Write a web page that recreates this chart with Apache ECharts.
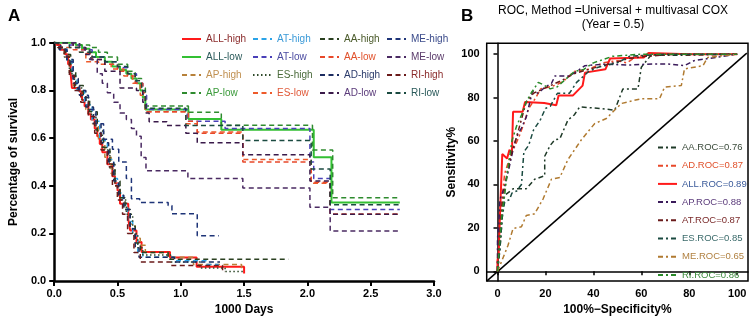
<!DOCTYPE html>
<html>
<head>
<meta charset="utf-8">
<script src="https://cdn.jsdelivr.net/npm/echarts@6/dist/echarts.min.js"></script>
<style>
  html, body { margin: 0; padding: 0; background: #fff; }
  #chart { width: 753px; height: 321px; }
</style>
</head>
<body>
<div id="chart"></div>
<script>
// panel A: Kaplan-Meier curves, [time (1000 days), survival]
var allHigh = [[0,1],[0.02,0.99],[0.05,0.97],[0.09,0.95],[0.11,0.91],[0.13,0.87],[0.14,0.81],[0.2,0.795],[0.22,0.76],[0.24,0.733],[0.27,0.7],[0.29,0.678],[0.32,0.64],[0.34,0.608],[0.36,0.575],[0.38,0.54],[0.42,0.49],[0.46,0.44],[0.48,0.41],[0.5,0.38],[0.52,0.324],[0.585,0.26],[0.6,0.2125],[0.65,0.164],[0.69,0.122],[0.915,0.099],[1.125,0.06],[1.5,0.032]]
var allLow = [[0,1],[0.17,0.99],[0.22,0.975],[0.28,0.96],[0.33,0.94],[0.4,0.92],[0.46,0.9],[0.52,0.885],[0.57,0.87],[0.61,0.85],[0.65,0.83],[0.68,0.8],[0.7,0.77],[0.72,0.72],[1.06,0.68],[1.32,0.635],[2.05,0.52],[2.19,0.33],[2.73,0.33]]
var apHigh = [[0,1],[0.03,0.98],[0.08,0.95],[0.12,0.88],[0.15,0.82],[0.2,0.78],[0.25,0.72],[0.3,0.66],[0.35,0.59],[0.4,0.52],[0.45,0.45],[0.48,0.4],[0.5,0.35],[0.55,0.3],[0.6,0.24],[0.64,0.18],[0.68,0.15],[0.72,0.12],[0.9,0.1],[1.1,0.07],[1.48,0.053],[1.5,0.053]]
var apLow = [[0,1],[0.2,0.99],[0.28,0.98],[0.35,0.96],[0.42,0.94],[0.5,0.91],[0.58,0.88],[0.64,0.85],[0.69,0.81],[0.72,0.735],[1.06,0.708],[1.32,0.654],[2.04,0.55],[2.2,0.35],[2.73,0.35]]
var atHigh = [[0,1],[0.04,0.98],[0.1,0.93],[0.14,0.86],[0.18,0.8],[0.24,0.74],[0.3,0.67],[0.36,0.59],[0.42,0.51],[0.47,0.43],[0.5,0.37],[0.54,0.32],[0.58,0.25],[0.62,0.19],[0.66,0.12],[0.7,0.1],[0.95,0.085],[1.2,0.07],[1.3,0.07]]
var atLow = [[0,1],[0.1,0.99],[0.2,0.97],[0.3,0.94],[0.4,0.92],[0.5,0.895],[0.58,0.87],[0.65,0.83],[0.7,0.78],[0.73,0.72],[1.05,0.67],[1.35,0.64],[2.02,0.5],[2.05,0.43],[2.18,0.3],[2.73,0.3]]
var esHigh = [[0,1],[0.03,0.98],[0.08,0.94],[0.12,0.87],[0.16,0.81],[0.22,0.76],[0.27,0.7],[0.33,0.62],[0.38,0.55],[0.44,0.47],[0.48,0.4],[0.52,0.34],[0.57,0.28],[0.62,0.2],[0.66,0.14],[0.7,0.11],[0.92,0.08],[1.15,0.055],[1.35,0.04],[1.5,0.04]]
var esLow = [[0,1],[0.1,0.98],[0.2,0.96],[0.25,0.92],[0.35,0.91],[0.45,0.89],[0.55,0.86],[0.62,0.83],[0.68,0.78],[0.72,0.71],[1.04,0.66],[1.13,0.625],[1.49,0.51],[2.03,0.41],[2.18,0.28],[2.73,0.28]]
var aaHigh = [[0,1],[0.03,0.98],[0.09,0.95],[0.13,0.88],[0.17,0.82],[0.23,0.77],[0.28,0.71],[0.34,0.63],[0.39,0.56],[0.44,0.49],[0.48,0.42],[0.52,0.35],[0.56,0.3],[0.6,0.23],[0.64,0.16],[0.68,0.12],[0.9,0.092],[1.85,0.092]]
var aaLow = [[0,1],[0.15,0.97],[0.25,0.955],[0.3,0.93],[0.4,0.91],[0.5,0.88],[0.58,0.86],[0.64,0.83],[0.7,0.79],[0.72,0.71],[1.06,0.67],[1.13,0.62],[1.49,0.5],[2.03,0.415],[2.18,0.28],[2.73,0.28]]
var adHigh = [[0,1],[0.04,0.97],[0.1,0.93],[0.15,0.85],[0.19,0.8],[0.25,0.73],[0.31,0.66],[0.37,0.58],[0.43,0.5],[0.47,0.42],[0.51,0.36],[0.55,0.3],[0.6,0.22],[0.64,0.14],[0.67,0.1],[0.95,0.08],[1.31,0.08]]
var adLow = [[0,1],[0.15,0.98],[0.25,0.95],[0.29,0.93],[0.4,0.88],[0.52,0.81],[0.65,0.8],[0.7,0.75],[0.725,0.705],[0.75,0.668],[0.89,0.653],[1.04,0.62],[1.13,0.58],[1.49,0.53],[2.02,0.42],[2.18,0.28],[2.73,0.28]]
var meHigh = [[0,1],[0.05,0.97],[0.1,0.92],[0.15,0.83],[0.2,0.78],[0.27,0.72],[0.33,0.66],[0.39,0.595],[0.46,0.553],[0.51,0.5],[0.57,0.43],[0.61,0.345],[0.675,0.33],[0.9,0.317],[0.93,0.282],[1.13,0.19],[1.3,0.19]]
var meLow = [[0,1],[0.2,0.98],[0.24,0.97],[0.28,0.93],[0.34,0.87],[0.38,0.83],[0.42,0.79],[0.47,0.75],[0.52,0.705],[0.57,0.678],[0.61,0.64],[0.65,0.608],[0.687,0.518],[0.725,0.4625],[1.056,0.43],[1.49,0.39],[2.02,0.31],[2.18,0.21],[2.73,0.21]]
var riHigh = [[0,1],[0.03,0.98],[0.08,0.94],[0.12,0.86],[0.16,0.8],[0.21,0.75],[0.27,0.69],[0.32,0.62],[0.37,0.55],[0.42,0.48],[0.46,0.4],[0.5,0.34],[0.54,0.28],[0.58,0.2],[0.63,0.12],[0.68,0.08],[0.92,0.065],[1.33,0.04],[1.35,0.04]]
var riLow = [[0,1],[0.12,0.98],[0.2,0.96],[0.3,0.94],[0.4,0.92],[0.5,0.9],[0.58,0.87],[0.64,0.84],[0.69,0.8],[0.72,0.725],[1.04,0.653],[1.49,0.59],[2.03,0.47],[2.18,0.32],[2.73,0.32]]

// panel B: ROC curves, [100%-specificity, sensitivity]
var rocAA = [[0,0],[1,10],[2,25],[2.5,33],[3,35],[6.5,38],[12,38],[15.5,42.4],[19.7,44],[19.7,53],[22,58],[23.9,60.6],[26,61],[29.4,69.7],[32,72],[34.3,75.7],[42.6,75],[48.9,74.2],[52.3,84],[58.6,84],[60,94],[64,99.5],[80,99.5],[100,100]]
var rocAD = [[0,0],[0,5],[1,20],[2,35],[3,45],[5,52],[7,57],[9,62],[11,68],[13,75],[16,80],[18,84],[22,85],[25,86],[28,88],[32,92],[38,93],[44,96],[50,97],[54,96],[58,99],[70,100],[100,100]]
var rocALL = [[0,0],[0,5],[0.5,8],[1,25],[2,54],[4,52],[5,56],[6,54],[6.5,73.5],[10.5,73.5],[11.5,78],[19.5,77.5],[24.5,76.5],[25.5,81],[31.5,81],[35.5,85.5],[36.5,91.5],[45,93],[47,98],[61,98.5],[63,100.5],[80,100],[100,100]]
var rocAP = [[0,0],[0,15],[0.5,21],[1,33],[3,39],[5,48.5],[6.5,56],[8,62],[10,66],[12,71],[14.6,83],[17,82],[20,85],[22.5,86.5],[24,90],[30,90],[33,92],[36.5,94.7],[44.7,95.4],[55,95],[65,95.5],[71,95.5],[78,94.7],[82,97],[88,98],[100,100]]
var rocAT = [[0,0],[0,3],[1,18],[2,32],[4,45],[6,55],[8,62],[10,70],[12,78],[15,82],[19,84],[23,86],[27,88],[32,91],[38,93],[45,95],[55,98],[62,99],[75,100],[100,100]]
var rocES = [[0,0],[1,10],[2,25],[3,32],[5,33],[6,36],[8,37],[10,40],[11,55],[13,58],[15,65],[18,70],[20,75],[22,76],[25,82],[30,82],[33,87],[38,92],[42,94],[50,96],[55,99],[70,100],[100,100]]
var rocME = [[0,0],[1.7,4.5],[4.4,12],[6.5,19.7],[10,20.5],[12,25.7],[15.5,26.5],[19,33.3],[22.5,42.4],[26,43.2],[29.4,51.5],[35,60.6],[40.5,68],[45.4,70.4],[51.7,77.3],[60,79.5],[67.6,79.5],[69.7,84.8],[76.7,85.6],[78,93.2],[85.7,94.7],[87.7,98.5],[100,100]]
var rocRI = [[0,0],[1,15],[2,28],[3,35],[4,45],[5,52],[6,60],[8,67],[10,72],[12,78],[14,82],[17,87],[19,86],[22,84],[25,85],[28,88],[32,92],[36,93],[40,96],[48,99],[60,100],[100,100]]
var diagonal = [[-4.5,-4.5],[104,100.5]]

var xTicksB = [0, 20, 40, 60, 80, 100]
var yTicksB = [0, 20, 40, 60, 80, 100]

var FONT = "'Liberation Sans', Arial, sans-serif"
var DASH = [5, 3.5]
var DASHDOT = [5, 3, 2, 3]

function km(name, data, color, type, width, textColor) {
  return {
    name: name, type: 'line', step: 'end', data: data,
    xAxisIndex: 0, yAxisIndex: 0, symbol: 'none', silent: true,
    lineStyle: { color: color, type: type, width: width },
    itemStyle: { color: color },
    legendText: textColor
  }
}
function roc(name, data, color, type, width, textColor) {
  return {
    name: name, type: 'line', data: data,
    xAxisIndex: 1, yAxisIndex: 1, symbol: 'none', silent: true,
    lineStyle: { color: color, type: type, width: width },
    itemStyle: { color: color },
    legendText: textColor
  }
}

var kmSeries = [
  km('ALL-high', allHigh, '#ff1a1a', 'solid', 2, '#8a2a2a'),
  km('ALL-low', allLow, '#33c033', 'solid', 2, '#2a5a5a'),
  km('AP-high', apHigh, '#b7813a', DASH, 1.5, '#c09050'),
  km('AP-low', apLow, '#2e8b2e', DASH, 1.5, '#3a9a3a'),
  km('AT-high', atHigh, '#2aa3e8', DASH, 1.5, '#3a9ad8'),
  km('AT-low', atLow, '#4a40b8', DASH, 1.5, '#4a4aa0'),
  km('ES-high', esHigh, '#2f4a2a', [1.5, 2.5], 1.5, '#4a6a3a'),
  km('ES-low', esLow, '#ee5a2a', DASH, 1.5, '#e05a3a'),
  km('AA-high', aaHigh, '#2a4020', DASH, 1.5, '#4a5a2a'),
  km('AA-low', aaLow, '#e8482a', DASH, 1.5, '#e0502a'),
  km('AD-high', adHigh, '#1c2c60', DASH, 1.5, '#2a3a6a'),
  km('AD-low', adLow, '#3a1a4a', DASH, 1.5, '#5a3a7a'),
  km('ME-high', meHigh, '#1e3478', DASH, 1.5, '#3a4a8a'),
  km('ME-low', meLow, '#4a2a62', DASH, 1.5, '#5a3a6a'),
  km('RI-high', riHigh, '#6a1a1a', DASH, 1.5, '#8a2a2a'),
  km('RI-low', riLow, '#1a4a40', DASH, 1.5, '#2a5a5a')
]

var rocSeries = [
  roc('AA.ROC=0.76', rocAA, '#1f3a28', DASHDOT, 1.5, '#3a4a3a'),
  roc('AD.ROC=0.87', rocAD, '#e8482a', DASHDOT, 1.5, '#e0502a'),
  roc('ALL.ROC=0.89', rocALL, '#ff1a1a', 'solid', 2, '#3a5a9a'),
  roc('AP.ROC=0.88', rocAP, '#3a1a5a', DASHDOT, 1.5, '#5a3a7a'),
  roc('AT.ROC=0.87', rocAT, '#6a1a1a', DASHDOT, 1.5, '#7a2a2a'),
  roc('ES.ROC=0.85', rocES, '#1a4a40', DASHDOT, 1.5, '#3a6a6a'),
  roc('ME.ROC=0.65', rocME, '#b07a30', DASHDOT, 1.5, '#b08040'),
  roc('RI.ROC=0.86', rocRI, '#2a8a2a', DASHDOT, 1.5, '#3a8a3a')
]

var diagSeries = {
  name: 'diag', type: 'line', data: diagonal, xAxisIndex: 1, yAxisIndex: 1,
  symbol: 'none', silent: true, clip: false, z: 1,
  lineStyle: { color: '#000', width: 1.5 }
}

function legendItems(list) {
  return list.map(function (s) {
    return { name: s.name, textStyle: { color: s.legendText }, itemStyle: { opacity: 0 } }
  })
}
function kmLegend(idx, left) {
  return {
    orient: 'vertical', left: left, top: 32, padding: 0,
    itemWidth: 19, itemHeight: 14, itemGap: 4,
    selectedMode: false,
    itemStyle: { opacity: 0 },
    textStyle: { fontFamily: FONT, fontSize: 10, lineHeight: 14 },
    data: legendItems(kmSeries.slice(idx * 4, idx * 4 + 4))
  }
}

var axisLabelStyle = { color: '#000', fontWeight: 'bold', fontSize: 11, fontFamily: FONT }
var nameStyle = { color: '#000', fontWeight: 'bold', fontSize: 12, fontFamily: FONT }

var chart = echarts.init(document.getElementById('chart'))
chart.setOption({
  animation: false,
  backgroundColor: '#fff',
  title: [
    { text: 'A', left: 3, top: 3, textStyle: { fontSize: 17, fontWeight: 'bold', fontFamily: FONT, color: '#000' } },
    { text: 'B', left: 456, top: 3, textStyle: { fontSize: 17, fontWeight: 'bold', fontFamily: FONT, color: '#000' } },
    { text: 'ROC, Method =Universal + multivasal COX\n(Year = 0.5)', left: 608, top: -1, textAlign: 'center',
      textStyle: { fontSize: 12, fontWeight: 'normal', fontFamily: FONT, color: '#000', lineHeight: 14, align: 'center' } }
  ],
  legend: [
    kmLegend(0, 181),
    kmLegend(1, 252),
    kmLegend(2, 319),
    kmLegend(3, 386),
    {
      orient: 'vertical', left: 657, top: 140.5, padding: 0,
      itemWidth: 19, itemHeight: 14, itemGap: 4.2,
      selectedMode: false,
      itemStyle: { opacity: 0 },
      textStyle: { fontFamily: FONT, fontSize: 9.5, lineHeight: 14 },
      data: legendItems(rocSeries)
    }
  ],
  grid: [
    { left: 41.7, right: 319, top: 42.7, bottom: 38.3 },
    { left: 486.7, right: 5, top: 43.3, bottom: 37, show: true, borderColor: '#000', borderWidth: 1.5, backgroundColor: 'transparent' }
  ],
  xAxis: [
    {
      gridIndex: 0, type: 'value', min: 0, max: 3, interval: 0.5,
      name: '1000 Days', nameLocation: 'middle', nameGap: 22, nameTextStyle: nameStyle,
      axisLine: { lineStyle: { color: '#000', width: 2.5 } },
      axisTick: { length: 5, lineStyle: { color: '#000', width: 2 } },
      axisLabel: Object.assign({ margin: 7, formatter: function (v) { return v.toFixed(1) } }, axisLabelStyle),
      splitLine: { show: false }
    },
    {
      gridIndex: 1, type: 'value', min: -4.5, max: 104.5,
      name: '100%\u2212Specificity%', nameLocation: 'middle', nameGap: 22, nameTextStyle: nameStyle,
      axisLine: { lineStyle: { color: '#000', width: 1.5 } },
      axisTick: { length: 4, customValues: xTicksB, lineStyle: { color: '#000', width: 1.5 } },
      axisLabel: Object.assign({ margin: 7, customValues: xTicksB }, axisLabelStyle),
      splitLine: { show: false }
    }
  ],
  yAxis: [
    {
      gridIndex: 0, type: 'value', min: 0, max: 1, interval: 0.2,
      name: 'Percentage of survival', nameLocation: 'middle', nameGap: 26, nameTextStyle: nameStyle,
      axisLine: { lineStyle: { color: '#000', width: 2.5 } },
      axisTick: { length: 5, lineStyle: { color: '#000', width: 2 } },
      axisLabel: Object.assign({ margin: 8, formatter: function (v) { return v.toFixed(1) } }, axisLabelStyle),
      splitLine: { show: false }
    },
    {
      gridIndex: 1, type: 'value', min: -4.5, max: 105,
      name: 'Sensitivity%', nameLocation: 'middle', nameGap: 28, nameTextStyle: nameStyle,
      axisLine: { lineStyle: { color: '#000', width: 1.5 } },
      axisTick: { length: 4, customValues: yTicksB, lineStyle: { color: '#000', width: 1.5 } },
      axisLabel: Object.assign({ margin: 7, customValues: yTicksB }, axisLabelStyle),
      splitLine: { show: false }
    }
  ],
  series: kmSeries.concat([diagSeries]).concat(rocSeries)
})
</script>
</body>
</html>
